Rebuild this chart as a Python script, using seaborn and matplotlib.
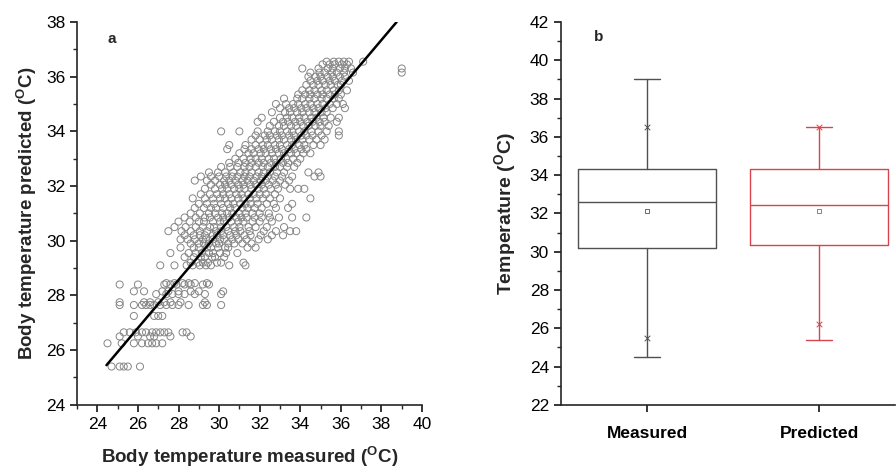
import numpy as np
import pandas as pd
import matplotlib
matplotlib.use("Agg")
import matplotlib.pyplot as plt
from matplotlib.ticker import MultipleLocator, AutoMinorLocator
import seaborn as sns

# ---- panel a: predicted value rows and the measured values found on each row ----
pred_rows = [25.4, 26.25, 26.5, 26.65, 27.25, 27.65, 27.75, 28.05, 28.15, 28.4, 28.45,
             29.1, 29.2, 29.4, 29.55, 29.75, 29.9, 30.05, 30.2, 30.35, 30.5, 30.7, 30.85,
             31.0, 31.2, 31.35, 31.55, 31.7, 31.9, 32.05, 32.2, 32.35, 32.5, 32.7, 32.85,
             33.0, 33.2, 33.35, 33.5, 33.7, 33.85, 34.0, 34.2, 34.35, 34.5, 34.7, 34.85,
             35.0, 35.2, 35.35, 35.5, 35.7, 35.85, 36.0, 36.15, 36.3, 36.45, 36.55]
meas_rows = [
    [24.7, 25.1, 25.3, 25.5, 26.1],
    [24.5, 25.2, 25.8, 26.2, 26.5, 26.7, 26.9, 27.2],
    [25.1, 26.0, 26.6, 26.8, 27.6, 28.6],
    [25.3, 25.6, 25.9, 26.2, 26.4, 26.7, 26.9, 27.1, 27.3, 27.5, 28.2, 28.4],
    [25.8, 26.8, 27.0, 27.2],
    [25.1, 25.8, 26.2, 26.4, 26.6, 26.8, 27.1, 27.4, 27.7, 28.0, 28.5, 29.2, 29.4, 30.1],
    [25.1, 26.3, 26.6, 27.0, 27.3, 27.6, 28.1, 29.3],
    [26.9, 27.4, 27.7, 28.0, 28.3, 28.8, 29.3, 30.1],
    [25.8, 26.3, 27.2, 27.5, 28.0, 28.6, 29.0, 30.2],
    [25.1, 26.0, 27.3, 27.6, 27.9, 28.3, 28.6, 29.2, 29.5],
    [27.4, 27.8, 28.2, 28.5, 28.8, 29.4],
    [27.1, 27.8, 28.4, 28.7, 29.05, 29.35, 29.6, 30.5, 31.3],
    [28.6, 28.95, 29.2, 29.45, 29.9, 30.1, 31.2],
    [28.3, 28.75, 29.1, 29.3, 29.65, 29.8, 30.25],
    [27.6, 28.5, 28.85, 29.15, 29.5, 29.7, 30.05, 30.35, 30.9],
    [28.1, 28.75, 29.0, 29.4, 29.6, 29.95, 30.3, 30.45, 31.4, 31.8],
    [28.6, 29.0, 29.25, 29.5, 29.85, 30.0, 30.45, 30.75, 31.15, 31.6],
    [28.1, 28.45, 28.8, 29.2, 29.35, 29.7, 30.05, 30.25, 30.65, 30.95, 31.35, 31.95, 32.4],
    [28.3, 28.75, 29.05, 29.3, 29.7, 29.9, 30.2, 30.55, 30.85, 31.25, 31.55, 32.05, 32.6, 33.15],
    [27.5, 28.15, 28.6, 29.05, 29.4, 29.85, 30.1, 30.45, 30.8, 31.05, 31.5, 32.2, 32.8, 33.5, 33.8],
    [27.8, 28.35, 28.85, 29.2, 29.55, 29.75, 30.1, 30.35, 30.75, 31.0, 31.45, 31.8, 32.35, 33.2],
    [28.0, 28.55, 29.0, 29.25, 29.7, 30.05, 30.25, 30.6, 30.95, 31.2, 31.65, 32.0, 32.6],
    [28.3, 28.85, 29.3, 29.55, 29.95, 30.2, 30.5, 30.85, 31.1, 31.35, 31.75, 32.1, 32.5, 32.95, 33.6, 34.3],
    [28.6, 29.05, 29.5, 29.8, 30.15, 30.4, 30.65, 31.0, 31.3, 31.65, 32.0, 32.45],
    [28.8, 29.25, 29.6, 29.85, 30.2, 30.55, 30.8, 31.15, 31.4, 31.75, 32.1, 32.8, 33.4],
    [29.0, 29.4, 29.75, 30.1, 30.45, 30.7, 31.05, 31.3, 31.55, 31.9, 32.35, 32.7, 33.6],
    [28.7, 29.3, 29.7, 30.05, 30.3, 30.6, 30.95, 31.2, 31.5, 31.85, 32.15, 32.5, 33.0, 34.5],
    [29.1, 29.55, 29.9, 30.2, 30.5, 30.85, 31.1, 31.45, 31.7, 32.0, 32.3, 32.75],
    [29.3, 29.8, 30.15, 30.4, 30.75, 31.0, 31.25, 31.6, 31.95, 32.2, 32.55, 32.9, 33.5, 33.9, 34.2],
    [29.6, 30.05, 30.3, 30.6, 30.95, 31.2, 31.55, 31.8, 32.1, 32.45, 32.8, 33.25],
    [28.8, 29.4, 29.8, 30.25, 30.5, 30.8, 31.15, 31.4, 31.7, 32.05, 32.3, 32.65, 33.0, 33.45],
    [29.1, 29.6, 30.0, 30.35, 30.65, 30.9, 31.25, 31.5, 31.85, 32.1, 32.4, 32.75, 33.1, 33.6, 34.7, 35.0],
    [29.5, 29.95, 30.3, 30.7, 31.05, 31.3, 31.6, 31.95, 32.2, 32.5, 32.85, 33.2, 34.4, 34.9],
    [30.1, 30.55, 30.9, 31.25, 31.5, 31.8, 32.15, 32.4, 32.75, 33.0, 33.35, 33.7],
    [30.5, 30.95, 31.3, 31.6, 31.95, 32.2, 32.55, 32.8, 33.15, 33.4, 33.85],
    [30.8, 31.2, 31.55, 31.8, 32.1, 32.45, 32.7, 33.05, 33.3, 33.65, 34.0],
    [31.0, 31.45, 31.7, 32.05, 32.3, 32.6, 32.95, 33.2, 33.55, 33.8, 34.15, 34.5],
    [30.4, 31.25, 31.6, 31.95, 32.2, 32.55, 32.8, 33.1, 33.45, 33.7, 34.05, 34.3],
    [30.5, 31.3, 31.8, 32.15, 32.4, 32.75, 33.0, 33.35, 33.6, 33.95, 34.2, 34.65, 35.0],
    [31.6, 32.0, 32.35, 32.6, 32.95, 33.2, 33.55, 33.8, 34.1, 34.45, 34.8, 35.2],
    [31.8, 32.25, 32.5, 32.85, 33.1, 33.45, 33.7, 34.05, 34.3, 34.6, 35.05, 35.9],
    [30.1, 31.0, 31.9, 32.4, 32.75, 33.0, 33.35, 33.6, 33.95, 34.2, 34.55, 34.9, 35.3, 35.9],
    [32.5, 32.95, 33.2, 33.55, 33.8, 34.15, 34.4, 34.75, 35.0, 35.4],
    [31.9, 32.7, 33.15, 33.4, 33.75, 34.0, 34.35, 34.6, 34.95, 35.2, 35.8],
    [32.1, 33.0, 33.35, 33.6, 33.95, 34.2, 34.55, 34.8, 35.15, 35.5, 35.9],
    [32.6, 33.25, 33.5, 33.85, 34.1, 34.45, 34.7, 35.05, 35.3],
    [33.0, 33.45, 33.7, 34.05, 34.3, 34.65, 34.9, 35.25, 35.6, 36.2],
    [32.8, 33.3, 33.65, 33.9, 34.25, 34.5, 34.85, 35.1, 35.45, 35.8, 36.1],
    [33.2, 33.85, 34.1, 34.45, 34.7, 35.05, 35.3, 35.65, 35.9],
    [33.9, 34.25, 34.5, 34.85, 35.1, 35.45, 35.7, 36.0],
    [34.1, 34.45, 34.7, 35.05, 35.3, 35.65, 35.9, 36.3],
    [34.3, 34.65, 34.9, 35.25, 35.5, 35.85, 36.0],
    [34.5, 34.85, 35.1, 35.45, 35.7, 36.05, 36.4],
    [34.4, 34.75, 35.0, 35.35, 35.6, 35.95, 36.2],
    [34.5, 34.95, 35.2, 35.55, 35.8, 36.15, 36.6, 39.0],
    [34.1, 34.9, 35.35, 35.6, 35.95, 36.2, 36.5, 39.0],
    [35.1, 35.45, 35.7, 36.05, 36.3],
    [35.3, 35.65, 35.9, 36.15, 36.4, 37.1],
]

# fitted line end points
line_x = [24.45, 38.75]
line_y = [25.45, 38.0]

# ---- panel b: box statistics ----
groups   = ["Measured", "Predicted"]
whis_lo  = [24.5, 25.4]
q1       = [30.2, 30.35]
medians  = [32.6, 32.45]
means    = [32.15, 32.15]
q3       = [34.3, 34.3]
whis_hi  = [39.0, 36.5]
pct_1    = [25.5, 26.2]
pct_99   = [36.5, 36.5]
box_colors = ["#505050", "#d9434e"]

sns.set_style("ticks")
plt.rcParams["font.family"] = ["Liberation Sans", "DejaVu Sans"]
plt.rcParams["mathtext.fontset"] = "custom"
plt.rcParams["mathtext.rm"] = "Liberation Sans"
plt.rcParams["mathtext.bf"] = "Liberation Sans:bold"

rows = [(m, p) for p, ms in zip(pred_rows, meas_rows) for m in ms]
df = pd.DataFrame(rows, columns=["measured", "predicted"])

fig = plt.figure(figsize=(8.96, 4.68), dpi=100)
ax1 = fig.add_axes([0.086, 0.135, 0.385, 0.818])
ax2 = fig.add_axes([0.626, 0.135, 0.373, 0.818])

# panel a
sns.scatterplot(data=df, x="measured", y="predicted", ax=ax1, marker="o", s=26,
                facecolor="none", edgecolor="#858585", linewidth=0.7, zorder=2)
sns.lineplot(x=line_x, y=line_y, ax=ax1, color="black", linewidth=1.8, zorder=3)
ax1.set_xlim(23, 40)
ax1.set_ylim(24, 38)
ax1.xaxis.set_major_locator(MultipleLocator(2))
ax1.yaxis.set_major_locator(MultipleLocator(2))
ax1.xaxis.set_minor_locator(AutoMinorLocator(2))
ax1.yaxis.set_minor_locator(AutoMinorLocator(2))
ax1.set_xlabel(r"Body temperature measured ($^{\mathbf{O}}$C)", fontsize=13.5,
               fontweight="bold", labelpad=9)
ax1.set_ylabel(r"Body temperature predicted ($^{\mathbf{O}}$C)", fontsize=13.5,
               fontweight="bold", labelpad=5)
ax1.text(0.087, 0.955, "a", transform=ax1.transAxes, fontsize=11, fontweight="bold",
         va="center")

# panel b
stats = []
for i in range(len(groups)):
    stats.append(dict(label=groups[i], whislo=whis_lo[i], q1=q1[i], med=medians[i],
                      mean=means[i], q3=q3[i], whishi=whis_hi[i], fliers=[]))
for i, st in enumerate(stats):
    c = box_colors[i]
    ax2.bxp([st], positions=[i + 1], widths=0.8, showmeans=True, capwidths=0.15,
            boxprops=dict(color=c, linewidth=1.0),
            medianprops=dict(color=c, linewidth=1.0),
            whiskerprops=dict(color=c, linewidth=1.0),
            capprops=dict(color=c, linewidth=1.0),
            meanprops=dict(marker="s", markersize=3.5, markerfacecolor="none",
                           markeredgecolor=c, markeredgewidth=0.6))
    sns.scatterplot(x=[i + 1, i + 1], y=[pct_1[i], pct_99[i]], ax=ax2, marker="x",
                    s=16, color=c, linewidth=0.7, zorder=4)

ax2.set_xlim(0.5, 2.44)
ax2.set_ylim(22, 42)
ax2.set_xticks([1, 2])
ax2.set_xticklabels(groups, fontsize=14, fontweight="bold")
ax2.yaxis.set_major_locator(MultipleLocator(2))
ax2.yaxis.set_minor_locator(AutoMinorLocator(2))
ax2.set_ylabel(r"Temperature ($^{\mathbf{O}}$C)", fontsize=14, fontweight="bold", labelpad=8)
ax2.text(0.1, 0.962, "b", transform=ax2.transAxes, fontsize=11, fontweight="bold",
         va="center")

for ax in (ax1, ax2):
    sns.despine(ax=ax)
    ax.spines["left"].set_linewidth(1.2)
    ax.spines["bottom"].set_linewidth(1.2)
    ax.tick_params(axis="both", which="major", direction="out", length=5, width=1.1,
                   labelsize=12.5, colors="black")
    ax.tick_params(axis="both", which="minor", direction="out", length=3, width=1.0)
ax2.tick_params(axis="x", which="major", pad=10)

fig.savefig("out.png", dpi=100)
